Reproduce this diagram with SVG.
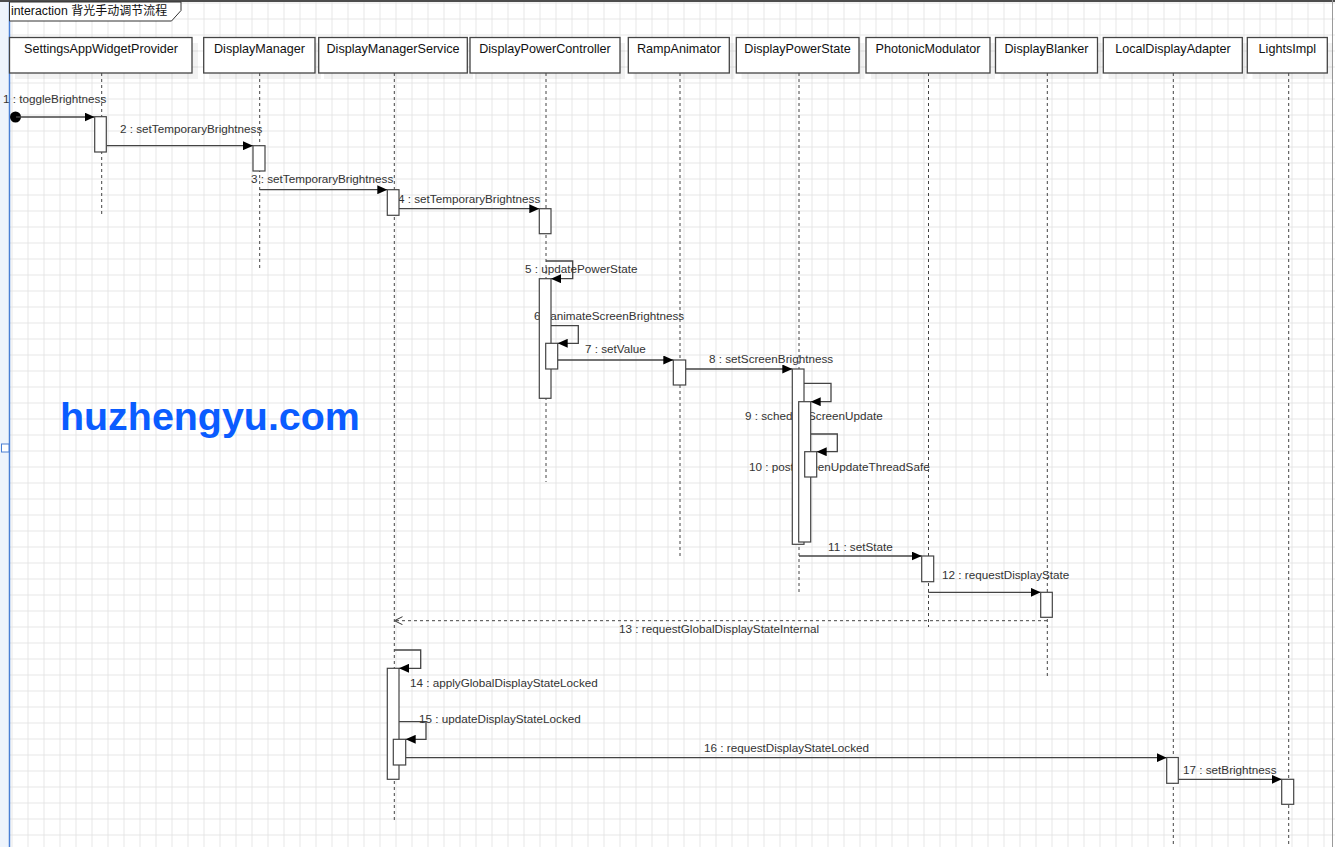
<svg xmlns="http://www.w3.org/2000/svg" width="1335" height="847" viewBox="0 0 1335 847">
<defs>
<pattern id="grid" x="11.5" y="2.5" width="16" height="16" patternUnits="userSpaceOnUse">
<path d="M0,0.5 H16 M0.5,0 V16" fill="none" stroke="#e6e6e6" stroke-width="1"/>
</pattern>
<marker id="fill" markerUnits="userSpaceOnUse" markerWidth="11" markerHeight="9" refX="10" refY="4.5" orient="auto">
<path d="M0,0 L10,4.5 L0,9 z" fill="#000"/>
</marker>
<marker id="open" markerUnits="userSpaceOnUse" markerWidth="10" markerHeight="10" refX="8" refY="4" orient="auto">
<path d="M0,0 L8,4 L0,8" fill="none" stroke="#333" stroke-width="1"/>
</marker>
</defs>
<style>
.hdr{fill:#fff;stroke:#444;stroke-width:1.3}
.shadow{fill:#000;opacity:0.05}
.hdrt{font-family:"Liberation Sans",Arial,sans-serif;font-size:12.6px;fill:#111;text-anchor:middle}
.life{stroke:#444;stroke-width:1;stroke-dasharray:3,3;fill:none}
.act{fill:#fff;stroke:#444;stroke-width:1.2}
.msg{stroke:#444;stroke-width:1.3;fill:none;marker-end:url(#fill)}
.ret{stroke:#444;stroke-width:1;stroke-dasharray:3,3;fill:none;marker-end:url(#open)}
.lbl{font-family:"Liberation Sans",Arial,sans-serif;font-size:11.7px;fill:#333}
</style>
<rect width="1335" height="847" fill="#fff"/>
<rect width="1335" height="847" fill="url(#grid)"/>
<rect x="0" y="0" width="9" height="847" fill="#eef4fc"/>
<line x1="9.5" y1="0" x2="9.5" y2="847" stroke="#4a7fd4" stroke-width="1.5"/>
<rect x="1.5" y="444" width="7.5" height="8" fill="#fff" stroke="#4a7fd4" stroke-width="1"/>
<rect x="0" y="0" width="1335" height="2" fill="#4d4d4d"/>
<line x1="1332.5" y1="0" x2="1332.5" y2="847" stroke="#9a9a9a" stroke-width="1"/>
<g id="frame">
<polygon points="9.5,2 181,2 181,10.5 171.5,21 9.5,21" fill="#fff" stroke="#333" stroke-width="1"/>
<text x="11" y="15" style="font-family:'Liberation Sans',Arial,sans-serif;font-size:12.3px;fill:#111">interaction <tspan style="font-family:'Noto Sans CJK SC',sans-serif;font-size:12px">背光手动调节流程</tspan></text>
</g>
<text x="60" y="429.5" style="font-family:'Liberation Sans',Arial,sans-serif;font-size:39.4px;font-weight:bold;fill:#0a5cff">huzhengyu.com</text>
<g id="connectors">
<circle cx="15.5" cy="117" r="5.5" fill="#000"/>
<line class="msg" x1="16" y1="117" x2="94.5" y2="117"/>
<text class="lbl" x="3" y="103">1 : toggleBrightness</text>
<line class="msg" x1="106.5" y1="145.7" x2="253" y2="145.7"/>
<text class="lbl" x="120" y="133">2 : setTemporaryBrightness</text>
<line class="msg" x1="259.7" y1="189.7" x2="387.3" y2="189.7"/>
<text class="lbl" x="251" y="183">3 : setTemporaryBrightness</text>
<line class="msg" x1="399" y1="208.7" x2="539.3" y2="208.7"/>
<text class="lbl" x="398" y="203">4 : setTemporaryBrightness</text>
<path class="msg" d="M546,261 H572.7 V278.7 H551"/>
<text class="lbl" x="525" y="273">5 : updatePowerState</text>
<path class="msg" d="M551,325.7 H578.3 V343.3 H557.7"/>
<text class="lbl" x="534" y="320">6 : animateScreenBrightness</text>
<line class="msg" x1="557.7" y1="360" x2="673.3" y2="360"/>
<text class="lbl" x="585" y="353">7 : setValue</text>
<line class="msg" x1="685.7" y1="369" x2="792.3" y2="369"/>
<text class="lbl" x="709" y="363">8 : setScreenBrightness</text>
<path class="msg" d="M804,383.3 H831 V401.7 H810.7"/>
<text class="lbl" x="745" y="420">9 : scheduleScreenUpdate</text>
<path class="msg" d="M810.7,434 H837.3 V451.7 H816.7"/>
<text class="lbl" x="749" y="471">10 : postScreenUpdateThreadSafe</text>
<line class="msg" x1="799" y1="556" x2="921.7" y2="556"/>
<text class="lbl" x="828" y="551">11 : setState</text>
<line class="msg" x1="928.3" y1="592.3" x2="1040.7" y2="592.3"/>
<text class="lbl" x="942" y="579">12 : requestDisplayState</text>
<line class="ret" x1="1047" y1="620.7" x2="394.5" y2="620.7"/>
<text class="lbl" x="619" y="633">13 : requestGlobalDisplayStateInternal</text>
<path class="msg" d="M394.3,650 H420.7 V668.3 H399"/>
<text class="lbl" x="410" y="687">14 : applyGlobalDisplayStateLocked</text>
<path class="msg" d="M399,721.7 H426 V739.3 H405.7"/>
<text class="lbl" x="419" y="723">15 : updateDisplayStateLocked</text>
<line class="msg" x1="405.7" y1="757.7" x2="1166.7" y2="757.7"/>
<text class="lbl" x="704" y="752">16 : requestDisplayStateLocked</text>
<line class="msg" x1="1178.3" y1="779.3" x2="1281.7" y2="779.3"/>
<text class="lbl" x="1183" y="774">17 : setBrightness</text>
</g>
<g id="SettingsAppWidgetProvider">
<rect class="shadow" x="15" y="43" width="183" height="36"/>
<rect class="hdr" x="9.5" y="37.5" width="182.5" height="35.5"/>
<text class="hdrt" x="101" y="53">SettingsAppWidgetProvider</text>
<line class="life" x1="101.7" y1="73" x2="101.7" y2="217"/>
<rect class="act" x="94.7" y="116.7" width="11.6" height="35.3"/>
</g>
<g id="DisplayManager">
<rect class="shadow" x="209" y="43" width="112" height="36"/>
<rect class="hdr" x="203.7" y="37.5" width="111.3" height="35.5"/>
<text class="hdrt" x="259.5" y="53">DisplayManager</text>
<line class="life" x1="259.7" y1="73" x2="259.7" y2="270"/>
<rect class="act" x="253" y="145.7" width="12" height="25.3"/>
</g>
<g id="DisplayManagerService">
<rect class="shadow" x="324" y="43" width="149" height="36"/>
<rect class="hdr" x="318.7" y="37.5" width="148.6" height="35.5"/>
<text class="hdrt" x="393" y="53">DisplayManagerService</text>
<line class="life" x1="394.3" y1="73" x2="394.3" y2="822"/>
<rect class="act" x="387.3" y="189.7" width="11.7" height="25.6"/>
<rect class="act" x="387.3" y="668.3" width="11.7" height="111"/>
<rect class="act" x="393.3" y="739.3" width="12.4" height="25.7"/>
</g>
<g id="DisplayPowerController">
<rect class="shadow" x="475" y="43" width="150" height="36"/>
<rect class="hdr" x="470" y="37.5" width="150" height="35.5"/>
<text class="hdrt" x="545" y="53">DisplayPowerController</text>
<line class="life" x1="546" y1="73" x2="546" y2="482"/>
<rect class="act" x="539.3" y="208.7" width="11.7" height="25"/>
<rect class="act" x="539.3" y="278.7" width="11.7" height="119.6"/>
<rect class="act" x="545.7" y="343.3" width="12" height="25.7"/>
</g>
<g id="RampAnimator">
<rect class="shadow" x="633.5" y="43" width="101" height="36"/>
<rect class="hdr" x="628.3" y="37.5" width="101" height="35.5"/>
<text class="hdrt" x="679" y="53">RampAnimator</text>
<line class="life" x1="680" y1="73" x2="680" y2="557"/>
<rect class="act" x="673.3" y="360" width="12.4" height="25"/>
</g>
<g id="DisplayPowerState">
<rect class="shadow" x="741.5" y="43" width="123" height="36"/>
<rect class="hdr" x="736.3" y="37.5" width="122.7" height="35.5"/>
<text class="hdrt" x="797.5" y="53">DisplayPowerState</text>
<line class="life" x1="799" y1="73" x2="799" y2="595"/>
<rect class="act" x="792.3" y="369" width="11.7" height="175.3"/>
<rect class="act" x="798.7" y="401.7" width="12" height="140.3"/>
<rect class="act" x="804.7" y="451.7" width="12" height="25.3"/>
</g>
<g id="PhotonicModulator">
<rect class="shadow" x="871" y="43" width="124" height="36"/>
<rect class="hdr" x="866" y="37.5" width="124" height="35.5"/>
<text class="hdrt" x="928" y="53">PhotonicModulator</text>
<line class="life" x1="928.5" y1="73" x2="928.5" y2="627"/>
<rect class="act" x="921.7" y="556" width="12" height="25.7"/>
</g>
<g id="DisplayBlanker">
<rect class="shadow" x="1000.5" y="43" width="102" height="36"/>
<rect class="hdr" x="995.5" y="37.5" width="102" height="35.5"/>
<text class="hdrt" x="1046.5" y="53">DisplayBlanker</text>
<line class="life" x1="1047.3" y1="73" x2="1047.3" y2="676"/>
<rect class="act" x="1040.7" y="592.3" width="11.6" height="25"/>
</g>
<g id="LocalDisplayAdapter">
<rect class="shadow" x="1108.5" y="43" width="139" height="36"/>
<rect class="hdr" x="1103.3" y="37.5" width="139" height="35.5"/>
<text class="hdrt" x="1173" y="53">LocalDisplayAdapter</text>
<line class="life" x1="1173.3" y1="73" x2="1173.3" y2="847"/>
<rect class="act" x="1166.7" y="757.5" width="11.6" height="25.8"/>
</g>
<g id="LightsImpl">
<rect class="shadow" x="1252.5" y="43" width="80" height="36"/>
<rect class="hdr" x="1247.3" y="37.5" width="80" height="35.5"/>
<text class="hdrt" x="1287.3" y="53">LightsImpl</text>
<line class="life" x1="1288.7" y1="73" x2="1288.7" y2="847"/>
<rect class="act" x="1281.7" y="779.3" width="12" height="25"/>
</g>
</svg>
